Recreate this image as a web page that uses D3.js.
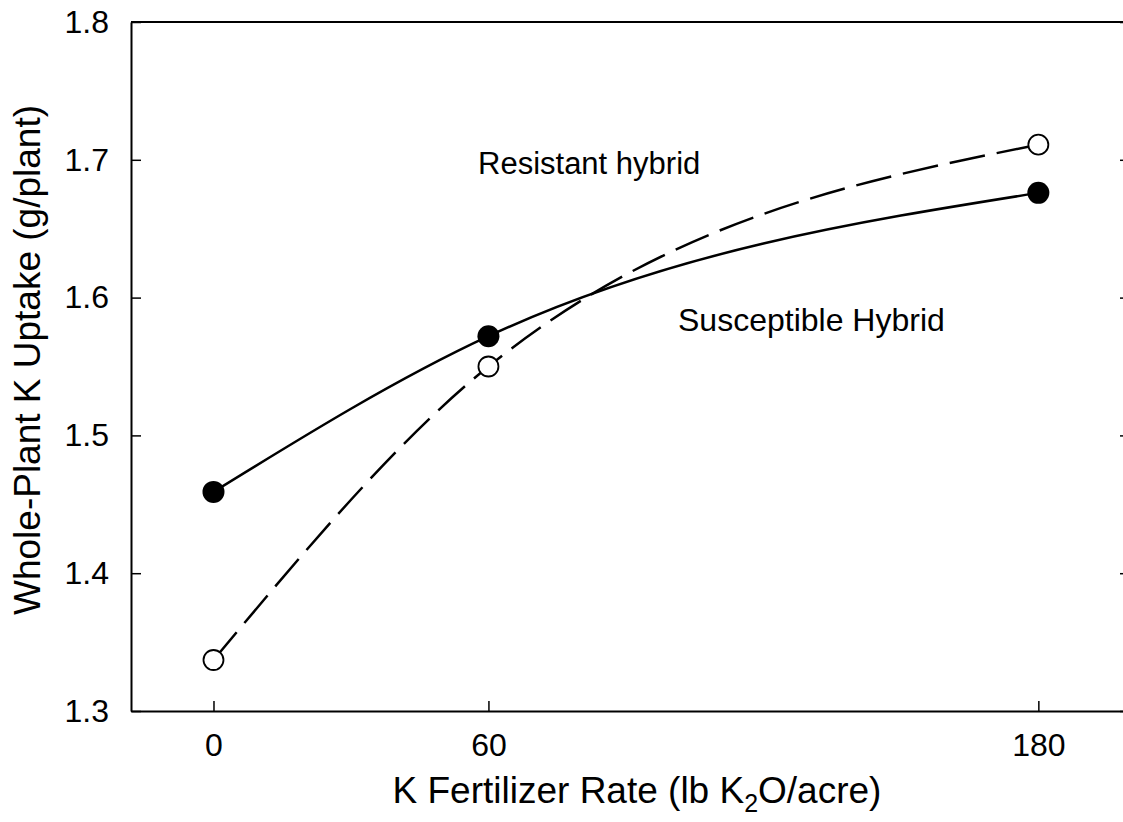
<!DOCTYPE html>
<html>
<head>
<meta charset="utf-8">
<script src="https://cdn.jsdelivr.net/npm/d3@7"></script>
<style>
  body { margin: 0; background: #fff; }
  svg text { font-family: "Liberation Sans", Arial, sans-serif; fill: #000; }
</style>
</head>
<body>
<div id="chart"></div>
<script>
// Whole-plant K uptake vs K fertilizer rate, two hybrids

// data
var rates = [0, 60, 180];
var filledUptake = [1.459, 1.572, 1.676];   // solid line, filled markers
var openUptake = [1.337, 1.550, 1.711];     // dashed line, open markers
var xTicks = [0, 60, 180];
var yTicks = [1.3, 1.4, 1.5, 1.6, 1.7, 1.8];

var svgWidth = 1123;
var svgHeight = 822;

var svg = d3.select("#chart")
  .append("svg")
  .attr("width", svgWidth)
  .attr("height", svgHeight);

// scales (right edge sits just past the window)
var x = d3.scaleLinear()
  .domain([-18, 200])
  .range([131, 1130]);

var y = d3.scaleLinear()
  .domain([1.3, 1.8])
  .range([711, 22]);

// top frame line
svg.append("line")
  .attr("x1", x.range()[0]).attr("x2", x.range()[1])
  .attr("y1", y(1.8)).attr("y2", y(1.8))
  .attr("stroke", "#000").attr("stroke-width", 2);

// bottom axis, ticks pointing in
var xAxis = svg.append("g")
  .attr("transform", "translate(0," + y(1.3) + ")")
  .call(d3.axisBottom(x).tickValues(xTicks).tickSizeInner(-10).tickSizeOuter(0).tickPadding(22).tickFormat(d3.format("d")));

// left axis
var yAxis = svg.append("g")
  .attr("transform", "translate(" + x(-18) + ",0)")
  .call(d3.axisLeft(y).tickValues(yTicks).tickSizeInner(-10).tickSizeOuter(0).tickPadding(22).tickFormat(d3.format(".1f")));

// right side ticks only
svg.append("g")
  .attr("transform", "translate(" + x(200) + ",0)")
  .call(d3.axisRight(y).tickValues(yTicks).tickSizeInner(-10).tickSizeOuter(0).tickFormat(""))
  .select(".domain").remove();

svg.selectAll(".domain").attr("stroke-width", 2);
svg.selectAll(".tick line").attr("stroke-width", 1.5);
xAxis.selectAll("text").attr("font-size", 32);
yAxis.selectAll("text").attr("font-size", 32);

// axis titles
var xTitle = svg.append("text")
  .attr("x", 637)
  .attr("y", 803)
  .attr("text-anchor", "middle")
  .attr("font-size", 37);
xTitle.append("tspan").text("K Fertilizer Rate (lb K");
xTitle.append("tspan").attr("font-size", 25).attr("dy", 9).text("2");
xTitle.append("tspan").attr("dy", -9).text("O/acre)");

svg.append("text")
  .attr("transform", "translate(40,360) rotate(-90)")
  .attr("text-anchor", "middle")
  .attr("font-size", 37)
  .text("Whole-Plant K Uptake (g/plant)");

// curves
var filledPts = rates.map((r, i) => [r, filledUptake[i]]);
var openPts = rates.map((r, i) => [r, openUptake[i]]);

var line = d3.line()
  .x(d => x(d[0]))
  .y(d => y(d[1]))
  .curve(d3.curveMonotoneX);

svg.append("path")
  .datum(openPts)
  .attr("d", line)
  .attr("fill", "none")
  .attr("stroke", "#000")
  .attr("stroke-width", 2.5)
  .attr("stroke-dasharray", "36,12");

svg.append("path")
  .datum(filledPts)
  .attr("d", line)
  .attr("fill", "none")
  .attr("stroke", "#000")
  .attr("stroke-width", 2.5);

// markers
svg.selectAll(".filledDot")
  .data(filledPts)
  .enter()
  .append("circle")
  .attr("class", "filledDot")
  .attr("cx", d => x(d[0]))
  .attr("cy", d => y(d[1]))
  .attr("r", 11)
  .attr("fill", "#000");

svg.selectAll(".openDot")
  .data(openPts)
  .enter()
  .append("circle")
  .attr("class", "openDot")
  .attr("cx", d => x(d[0]))
  .attr("cy", d => y(d[1]))
  .attr("r", 10)
  .attr("fill", "#fff")
  .attr("stroke", "#000")
  .attr("stroke-width", 1.8);

// labels
svg.append("text")
  .attr("x", 478)
  .attr("y", 174)
  .attr("font-size", 31)
  .text("Resistant hybrid");

svg.append("text")
  .attr("x", 678)
  .attr("y", 331)
  .attr("font-size", 32)
  .text("Susceptible Hybrid");
</script>
</body>
</html>
